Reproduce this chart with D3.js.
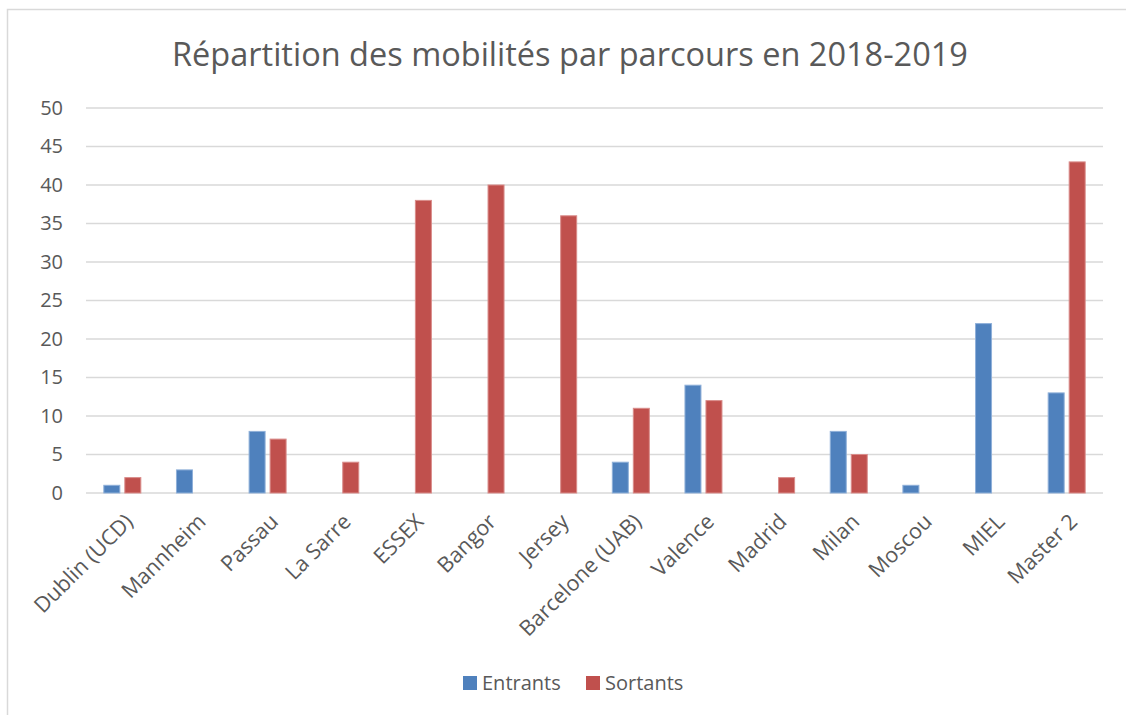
<!DOCTYPE html>
<html>
<head>
<meta charset="utf-8">
<script src="https://cdn.jsdelivr.net/npm/d3@7"></script>
<style>
  body { margin: 0; background: #fff; }
  svg { display: block; font-family: "Open Sans", "Liberation Sans", sans-serif; }
</style>
</head>
<body>
<div id="chart"></div>
<script>
// chart data
const categories = ["Dublin (UCD)", "Mannheim", "Passau", "La Sarre", "ESSEX", "Bangor", "Jersey",
    "Barcelone (UAB)", "Valence", "Madrid", "Milan", "Moscou", "MIEL", "Master 2"];
const entrants = [1, 3, 8, 0, 0, 0, 0, 4, 14, 0, 8, 1, 22, 13];
const sortants = [2, 0, 7, 4, 38, 40, 36, 11, 12, 2, 5, 0, 0, 43];
const seriesNames = ["Entrants", "Sortants"];
const yTicks = [0, 5, 10, 15, 20, 25, 30, 35, 40, 45, 50];
const title = "Répartition des mobilités par parcours en 2018-2019";

const width = 1126;
const height = 715;
const marginTop = 108;
const marginLeft = 86;
const plotRight = 1103;
const plotBottom = 493;
const colors = ["#4f81bd", "#c0504d"];
const textColor = "#595959";

const svg = d3.select("#chart").append("svg")
    .attr("width", width)
    .attr("height", height);

// outer border
svg.append("rect")
    .attr("x", 7.5).attr("y", 9.5)
    .attr("width", width).attr("height", height)
    .attr("fill", "none")
    .attr("stroke", "#d9d9d9")
    .attr("stroke-width", 1.5);

// title
svg.append("text")
    .attr("x", 570)
    .attr("y", 66)
    .attr("text-anchor", "middle")
    .attr("fill", textColor)
    .attr("font-size", 32.5)
    .text(title);

const x = d3.scaleBand(categories, [marginLeft, plotRight]);
const y = d3.scaleLinear([0, 50], [plotBottom, marginTop]);

// gridlines
svg.append("g")
    .selectAll("line")
    .data(yTicks)
    .join("line")
    .attr("x1", marginLeft)
    .attr("x2", plotRight)
    .attr("y1", d => y(d))
    .attr("y2", d => y(d))
    .attr("stroke", "#d9d9d9")
    .attr("stroke-width", 1.5);

// y axis labels
svg.append("g")
    .attr("transform", `translate(${marginLeft},0)`)
    .call(d3.axisLeft(y).tickValues(yTicks).tickSize(0).tickPadding(23))
    .call(g => g.select(".domain").remove())
    .call(g => g.selectAll("text")
        .attr("fill", textColor)
        .attr("font-size", 20)
        .attr("font-family", "Open Sans, Liberation Sans, sans-serif"));

// bars
const barW = 16;
const gap = 5;
const seriesData = [entrants, sortants];
seriesData.forEach((vals, s) => {
    svg.append("g")
        .selectAll("rect")
        .data(categories.map((c, i) => ({ c, v: vals[i] })).filter(d => d.v > 0))
        .join("rect")
        .attr("x", d => x(d.c) + x.bandwidth() / 2 + (s === 0 ? -(barW + gap / 2) : gap / 2))
        .attr("y", d => y(d.v))
        .attr("width", barW)
        .attr("height", d => y(0) - y(d.v))
        .attr("fill", colors[s])
        .attr("stroke", s === 0 ? "#8fb0d9" : "#d98c8a")
        .attr("stroke-width", 1);
});

// x axis labels, rotated
svg.append("g")
    .attr("transform", `translate(0,${plotBottom})`)
    .call(d3.axisBottom(x).tickSize(0).tickPadding(0))
    .call(g => g.select(".domain").remove())
    .call(g => g.selectAll("text")
        .attr("fill", textColor)
        .attr("font-size", 21.5)
        .attr("font-family", "Open Sans, Liberation Sans, sans-serif")
        .attr("text-anchor", "end")
        .attr("dy", 0)
        .attr("transform", "translate(12,30) rotate(-45)"));

// legend
const legend = svg.append("g").attr("transform", "translate(463,676)");
const legendX = [0, 123];
seriesNames.forEach((name, i) => {
    legend.append("rect")
        .attr("x", legendX[i]).attr("y", 0)
        .attr("width", 14).attr("height", 14)
        .attr("fill", colors[i]);
    legend.append("text")
        .attr("x", legendX[i] + 19)
        .attr("y", 14)
        .attr("fill", textColor)
        .attr("font-size", 20)
        .text(name);
});
</script>
</body>
</html>
